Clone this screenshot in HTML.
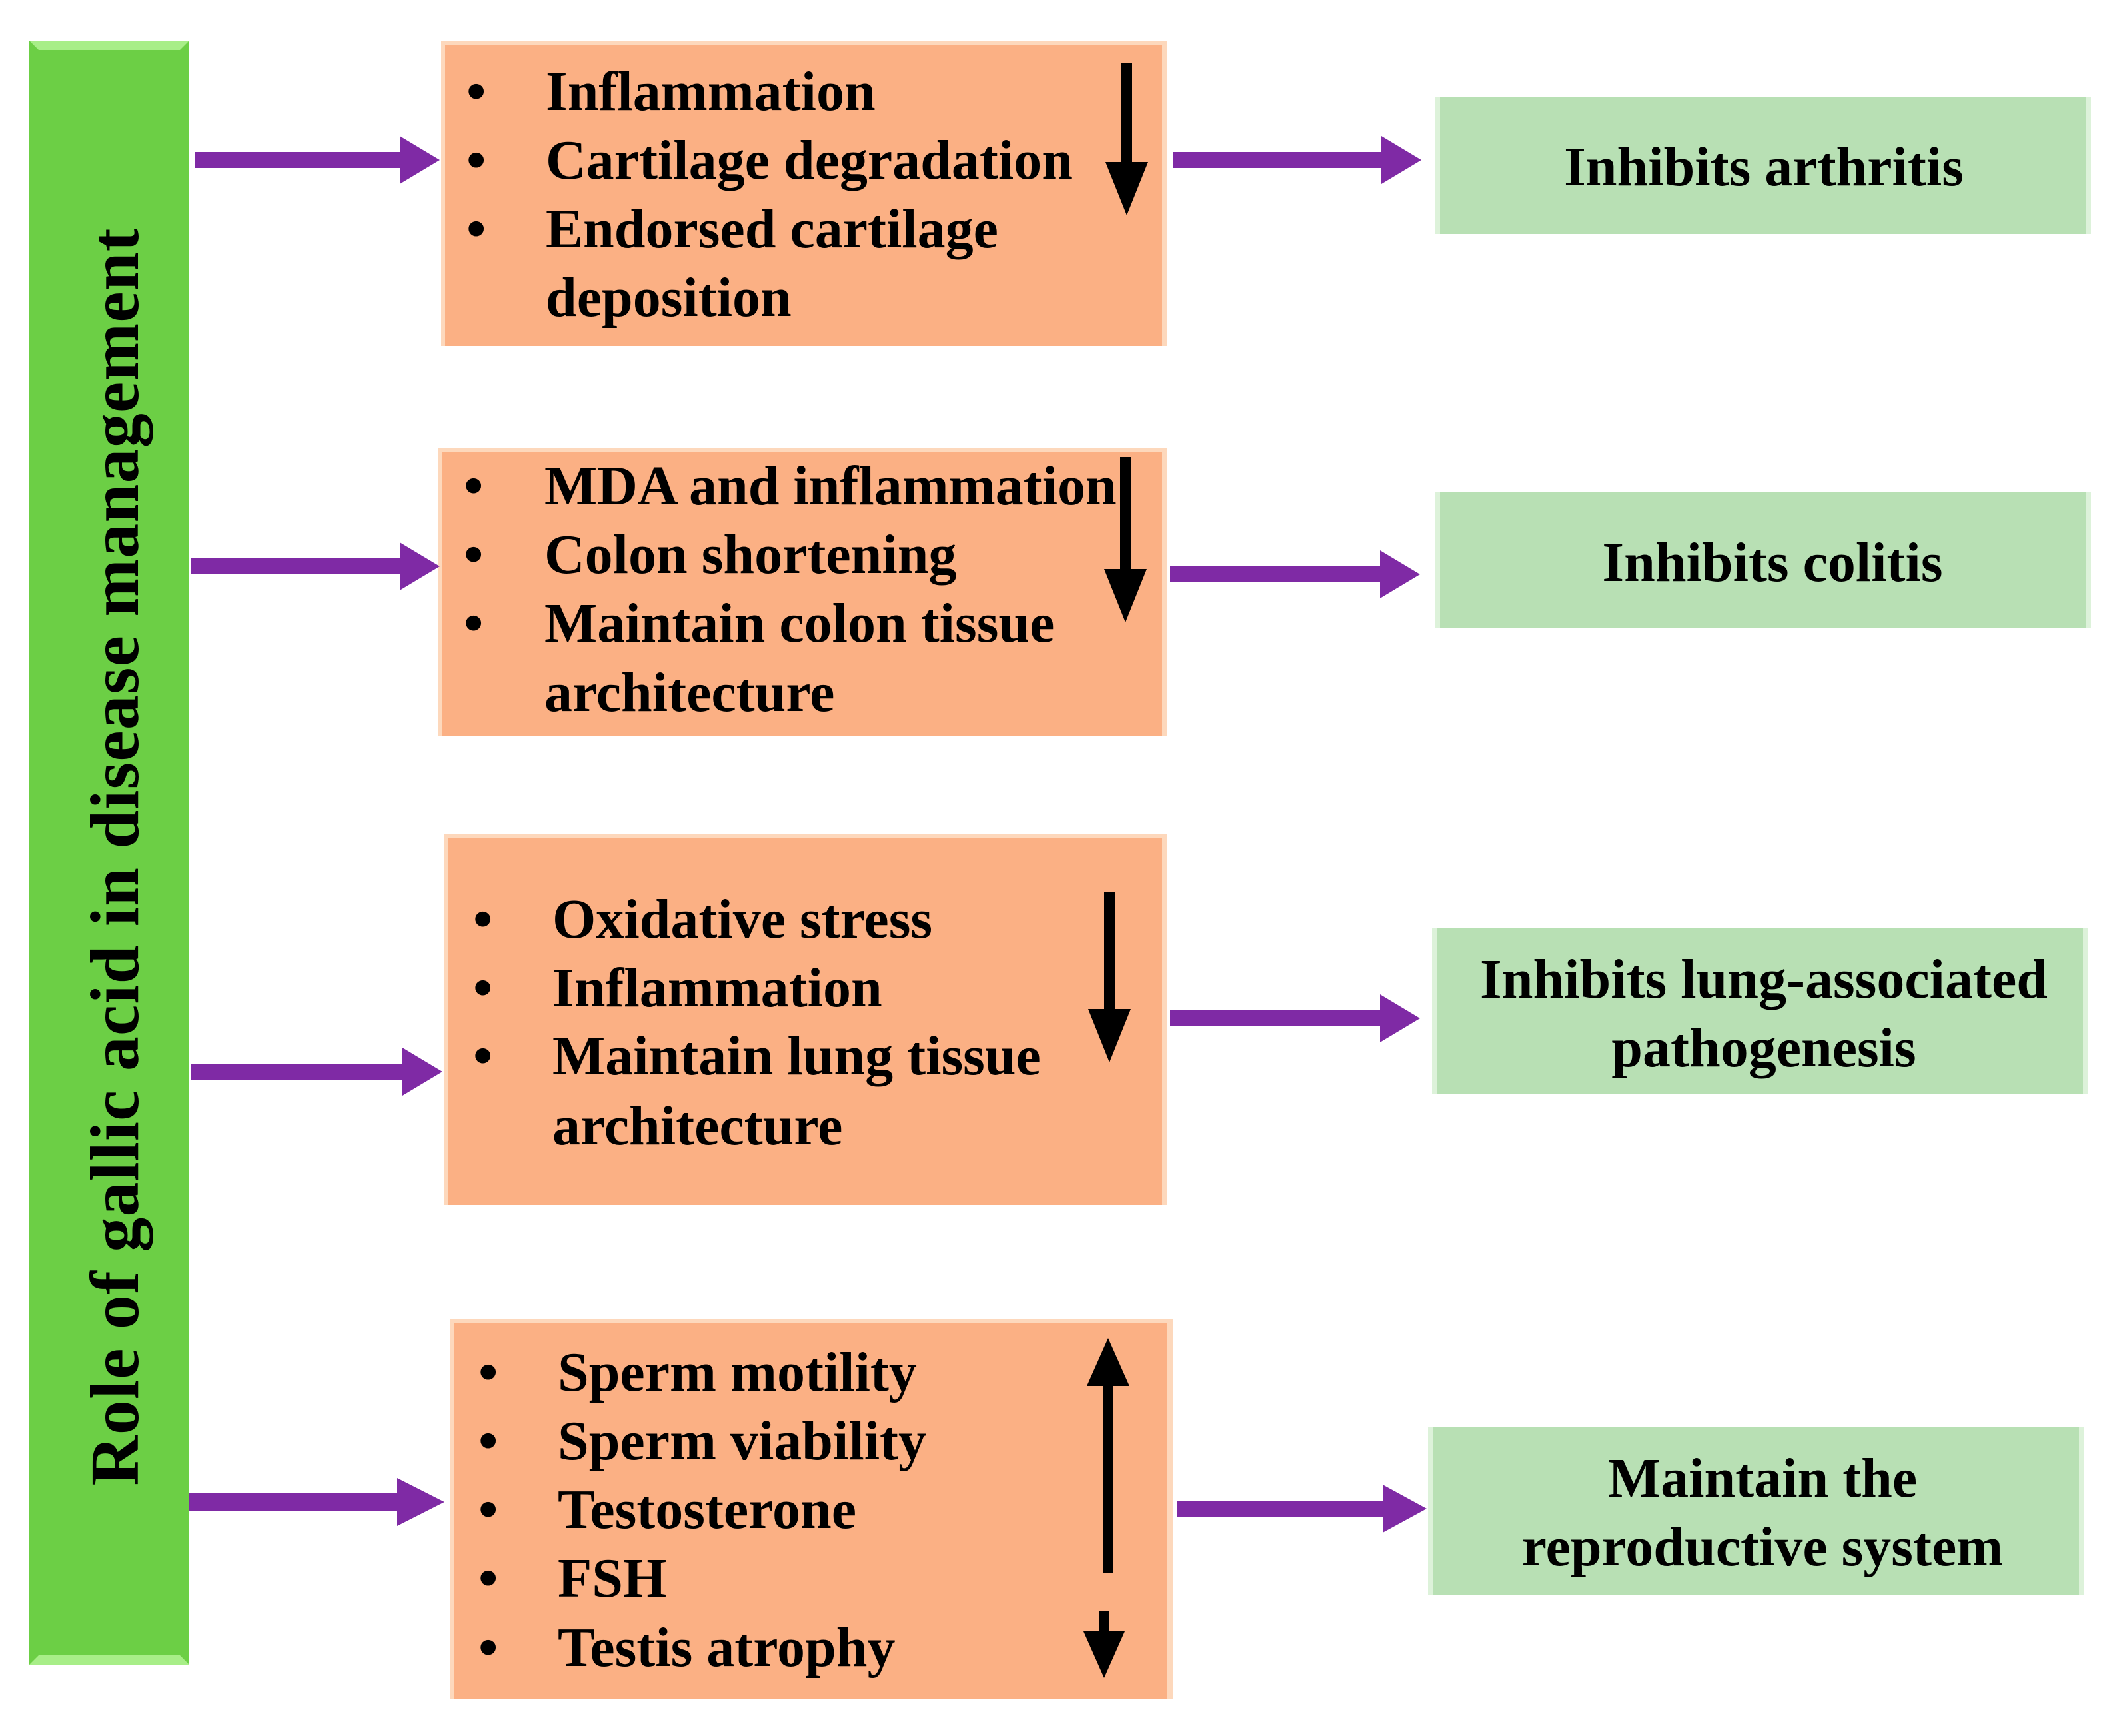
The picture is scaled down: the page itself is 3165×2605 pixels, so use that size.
<!DOCTYPE html>
<html><head><meta charset="utf-8"><style>html,body{margin:0;padding:0;background:#fff}svg{display:block}</style></head>
<body>
<svg width="3165" height="2605" viewBox="0 0 3165 2605" xmlns="http://www.w3.org/2000/svg" font-family="'Liberation Serif', serif" font-weight="bold">
<defs>
<g id="pa"><rect x="0" y="-12" width="10" height="24"/></g>
</defs>
<!-- green bar -->
<rect x="44" y="61" width="240" height="2437" fill="#6CCF45"/>
<polygon points="44,61 284,61 270,75 58,75" fill="#A8EE88"/>
<polygon points="44,2498 284,2498 270,2484 58,2484" fill="#A8EE88"/>
<text transform="translate(207,1286) rotate(-90)" text-anchor="middle" font-size="104" textLength="1887" lengthAdjust="spacing" x="0" y="0">Role of gallic acid in disease management</text>

<!-- orange boxes -->
<g fill="#FBB084">
<rect x="662" y="61" width="1090" height="458"/>
<rect x="658" y="672" width="1094" height="432"/>
<rect x="666" y="1251" width="1086" height="557"/>
<rect x="676" y="1980" width="1084" height="569"/>
</g>
<g fill="#FDD8BC">
<rect x="662" y="61" width="1090" height="6"/><rect x="1744" y="61" width="8" height="458"/><rect x="662" y="61" width="6" height="458"/>
<rect x="658" y="672" width="1094" height="6"/><rect x="1744" y="672" width="8" height="432"/><rect x="658" y="672" width="6" height="432"/>
<rect x="666" y="1251" width="1086" height="6"/><rect x="1744" y="1251" width="8" height="557"/><rect x="666" y="1251" width="6" height="557"/>
<rect x="676" y="1980" width="1084" height="6"/><rect x="1752" y="1980" width="8" height="569"/><rect x="676" y="1980" width="6" height="569"/>
</g>

<!-- light green boxes -->
<g fill="#B8E0B4">
<rect x="2153" y="145" width="985" height="206"/>
<rect x="2153" y="739" width="985" height="203"/>
<rect x="2149" y="1392" width="985" height="249"/>
<rect x="2143" y="2141" width="985" height="252"/>
</g>
<g fill="#DDF2DA">
<rect x="2153" y="145" width="8" height="206"/><rect x="3130" y="145" width="8" height="206"/>
<rect x="2153" y="739" width="8" height="203"/><rect x="3130" y="739" width="8" height="203"/>
<rect x="2149" y="1392" width="8" height="249"/><rect x="3126" y="1392" width="8" height="249"/>
<rect x="2143" y="2141" width="8" height="252"/><rect x="3120" y="2141" width="8" height="252"/>
</g>

<!-- purple arrows -->
<g fill="#7F2AA5">
<polygon points="293,228 600,228 600,204 660,240 600,276 600,252 293,252"/>
<polygon points="286,838 600,838 600,814 660,850 600,886 600,862 286,862"/>
<polygon points="286,1596 604,1596 604,1572 664,1608 604,1644 604,1620 286,1620"/>
<polygon points="284,2241 596,2241 596,2218 667,2254 596,2290 596,2267 284,2267"/>
<polygon points="1760,228 2073,228 2073,204 2133,240 2073,276 2073,252 1760,252"/>
<polygon points="1756,850 2071,850 2071,826 2131,862 2071,898 2071,874 1756,874"/>
<polygon points="1756,1516 2071,1516 2071,1492 2131,1528 2071,1564 2071,1540 1756,1540"/>
<polygon points="1766,2252 2075,2252 2075,2228 2141,2264 2075,2300 2075,2276 1766,2276"/>
</g>

<!-- black arrows -->
<g fill="#000">
<polygon points="1683,95 1699,95 1699,243 1723,243 1691,323 1659,243 1683,243"/>
<polygon points="1681,686 1697,686 1697,854 1721,854 1689,934 1657,854 1681,854"/>
<polygon points="1657,1338 1673,1338 1673,1514 1697,1514 1665,1594 1633,1514 1657,1514"/>
<polygon points="1655,2361 1671,2361 1671,2080 1695,2080 1663,2008 1631,2080 1655,2080"/>
<polygon points="1650,2418 1664,2418 1664,2448 1688,2448 1657,2518 1626,2448 1650,2448"/>
</g>

<!-- orange box text -->
<g font-size="84" fill="#000">
<text x="700" y="165">•</text><text x="819" y="165">Inflammation</text>
<text x="700" y="268">•</text><text x="819" y="268">Cartilage degradation</text>
<text x="700" y="371">•</text><text x="819" y="371">Endorsed cartilage</text>
<text x="819" y="474">deposition</text>

<text x="696" y="757">•</text><text x="817" y="757">MDA and inflammation</text>
<text x="696" y="860">•</text><text x="817" y="860">Colon shortening</text>
<text x="696" y="963">•</text><text x="817" y="963">Maintain colon tissue</text>
<text x="817" y="1067">architecture</text>

<text x="710" y="1407">•</text><text x="829" y="1407">Oxidative stress</text>
<text x="710" y="1510">•</text><text x="829" y="1510">Inflammation</text>
<text x="710" y="1612">•</text><text x="829" y="1612">Maintain lung tissue</text>
<text x="829" y="1717">architecture</text>

<text x="718" y="2087">•</text><text x="837" y="2087">Sperm motility</text>
<text x="718" y="2190">•</text><text x="837" y="2190">Sperm viability</text>
<text x="718" y="2293">•</text><text x="837" y="2293">Testosterone</text>
<text x="718" y="2396">•</text><text x="837" y="2396">FSH</text>
<text x="718" y="2500">•</text><text x="837" y="2500">Testis atrophy</text>
</g>

<!-- green box text -->
<g font-size="84" fill="#000" text-anchor="middle">
<text x="2647" y="278">Inhibits arthritis</text>
<text x="2660" y="872">Inhibits colitis</text>
<text x="2647" y="1497">Inhibits lung-associated</text>
<text x="2647" y="1600">pathogenesis</text>
<text x="2645" y="2246">Maintain the</text>
<text x="2645" y="2349">reproductive system</text>
</g>
</svg>
</body></html>
